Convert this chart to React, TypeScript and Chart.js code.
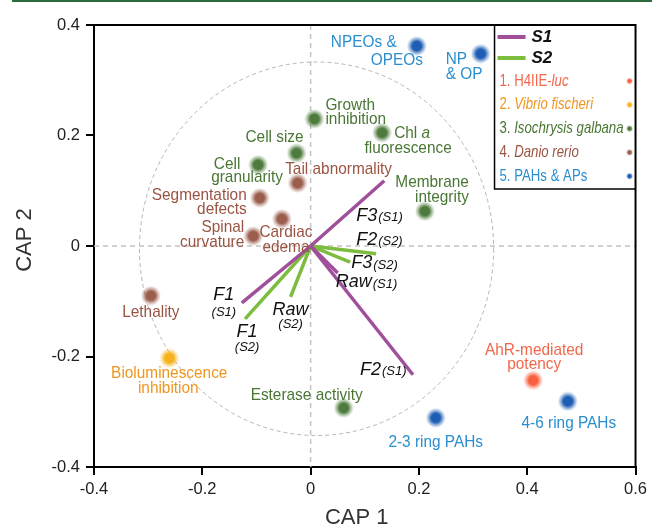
import { useEffect, useRef } from "react";
import { Chart, registerables } from "chart.js";
Chart.register(...registerables);

// ---------------- data ----------------
const X_TICKS = [-0.4, -0.2, 0, 0.2, 0.4, 0.6];
const Y_TICKS = [-0.4, -0.2, 0, 0.2, 0.4];
const X_TITLE = "CAP 1";
const Y_TITLE = "CAP 2";

const GROUP_LEGEND = ["1. H4IIE-*luc*", "2. *Vibrio fischeri*", "3. *Isochrysis galbana*", "4. *Danio rerio*", "5. PAHs & APs"];
const GROUP_DOT_COLORS = ["#f8603f", "#f6b21a", "#4e7b3d", "#9b5d4c", "#1e5db4"];
const GROUP_TEXT_COLORS = ["#f2674a", "#ef9620", "#4a7634", "#9a5443", "#2a8ecf"];

const POINT_NAMES = [
  "NPEOs & OPEOs", "NP & OP", "Growth inhibition", "Chl a fluorescence", "Cell size",
  "Cell granularity", "Tail abnormality", "Segmentation defects", "Cardiac edema", "Spinal curvature",
  "Membrane integrity", "Lethality", "Bioluminescence inhibition", "Esterase activity", "2-3 ring PAHs",
  "AhR-mediated potency", "4-6 ring PAHs",
];
const POINT_GROUP = [4, 4, 2, 2, 2, 2, 3, 3, 3, 3, 2, 3, 1, 2, 4, 0, 4];
const POINT_X = [0.196, 0.314, 0.007, 0.132, -0.026, -0.097, -0.024, -0.094, -0.053, -0.106, 0.211, -0.295, -0.261, 0.061, 0.231, 0.411, 0.475];
const POINT_Y = [0.362, 0.348, 0.230, 0.205, 0.168, 0.147, 0.114, 0.087, 0.049, 0.018, 0.063, -0.090, -0.203, -0.293, -0.311, -0.243, -0.281];

const SERIES_NAMES = ["S1", "S2"];
const SERIES_COLORS = ["#a0509a", "#7dbd3d"];
const VECTOR_NAMES = ["F1", "F2", "F3", "Raw"];
const S1_X = [-0.127, 0.189, 0.136, 0.050];
const S1_Y = [-0.103, -0.233, 0.118, -0.049];
const S2_X = [-0.121, 0.121, 0.073, -0.037];
const S2_Y = [-0.132, -0.014, -0.029, -0.092];
// reference circle (data units): centre and radii
const CIRCLE_C = [0.011, -0.005];
const CIRCLE_R = [0.327, 0.338];

// ---------------- label layout (px offsets from marks) ----------------
type LLine = { t: string; dx: number; dy: number };
type PLabel = { align: CanvasTextAlign; lines: LLine[] };
const POINT_LABELS: PLabel[] = [
  { align: "center", lines: [{ t: "NPEOs &", dx: -53, dy: -4 }, { t: "OPEOs", dx: -20, dy: 14 }] },
  { align: "left", lines: [{ t: "NP", dx: -35, dy: 6 }, { t: "& OP", dx: -35, dy: 21 }] },
  { align: "left", lines: [{ t: "Growth", dx: 11, dy: -14 }, { t: "inhibition", dx: 11, dy: 0 }] },
  { align: "center", lines: [{ t: "Chl *a*", dx: 30, dy: 1 }, { t: "fluorescence", dx: 26, dy: 16 }] },
  { align: "center", lines: [{ t: "Cell size", dx: -22, dy: -16 }] },
  { align: "center", lines: [{ t: "Cell", dx: -31, dy: 0 }, { t: "granularity", dx: -11, dy: 13 }] },
  { align: "center", lines: [{ t: "Tail abnormality", dx: 41, dy: -14 }] },
  { align: "right", lines: [{ t: "Segmentation", dx: -13, dy: -3 }, { t: "defects", dx: -13, dy: 11 }] },
  { align: "center", lines: [{ t: "Cardiac", dx: 4, dy: 13 }, { t: "edema", dx: 4, dy: 28 }] },
  { align: "right", lines: [{ t: "Spinal", dx: -9, dy: -9 }, { t: "curvature", dx: -9, dy: 6 }] },
  { align: "right", lines: [{ t: "Membrane", dx: 44, dy: -29 }, { t: "integrity", dx: 44, dy: -14 }] },
  { align: "center", lines: [{ t: "Lethality", dx: 0, dy: 17 }] },
  { align: "center", lines: [{ t: "Bioluminescence", dx: 0, dy: 15 }, { t: "inhibition", dx: -1, dy: 30 }] },
  { align: "center", lines: [{ t: "Esterase activity", dx: -37, dy: -13 }] },
  { align: "center", lines: [{ t: "2-3 ring PAHs", dx: 0, dy: 24 }] },
  { align: "center", lines: [{ t: "AhR-mediated", dx: 1, dy: -30 }, { t: "potency", dx: 1, dy: -16 }] },
  { align: "center", lines: [{ t: "4-6 ring PAHs", dx: 1, dy: 22 }] },
];
// vector labels: [series][vector]
type VLabel = { stacked: boolean; dx: number; dy: number; sdy?: number };
const VECTOR_LABELS: VLabel[][] = [
  [
    { stacked: true, dx: -18, dy: -8, sdy: 17 },
    { stacked: false, dx: -53, dy: -5 },
    { stacked: false, dx: -28, dy: 35 },
    { stacked: false, dx: -2, dy: 9 },
  ],
  [
    { stacked: true, dx: 2, dy: 13, sdy: 15 },
    { stacked: false, dx: -20, dy: -14 },
    { stacked: false, dx: 1, dy: 1 },
    { stacked: true, dx: 0, dy: 13, sdy: 15 },
  ],
];

const FONT = "'Liberation Sans', Arial, Helvetica, sans-serif";

type Seg = { t: string; i: boolean };
function parseSegs(s: string, italicAll = false): Seg[] {
  const parts = s.split("*");
  return parts.map((t, k) => ({ t, i: italicAll || k % 2 === 1 })).filter((p) => p.t.length > 0);
}

function drawSegs(
  ctx: CanvasRenderingContext2D,
  segs: Seg[],
  x: number,
  y: number,
  align: CanvasTextAlign,
  size: number,
  color: string,
  sx: number,
  bold = false
) {
  ctx.save();
  ctx.fillStyle = color;
  ctx.textBaseline = "middle";
  ctx.textAlign = "left";
  const f = (s: Seg) => `${s.i ? "italic " : ""}${bold ? "bold " : ""}${size}px ${FONT}`;
  let w = 0;
  for (const s of segs) {
    ctx.font = f(s);
    w += ctx.measureText(s.t).width;
  }
  const ws = w * sx;
  const x0 = align === "left" ? x : align === "right" ? x - ws : x - ws / 2;
  ctx.translate(x0, y);
  ctx.scale(sx, 1);
  let cx = 0;
  for (const s of segs) {
    ctx.font = f(s);
    ctx.fillText(s.t, cx, 0);
    cx += ctx.measureText(s.t).width;
  }
  ctx.restore();
  return ws;
}

function hexA(hex: string, a: number) {
  const n = parseInt(hex.slice(1), 16);
  return `rgba(${(n >> 16) & 255},${(n >> 8) & 255},${n & 255},${a})`;
}

function makeDot(color: string, r: number) {
  const c = document.createElement("canvas");
  c.width = r * 2;
  c.height = r * 2;
  const g = c.getContext("2d")!;
  const grad = g.createRadialGradient(r, r, 0, r, r, r);
  grad.addColorStop(0, color);
  grad.addColorStop(0.45, color);
  grad.addColorStop(0.72, hexA(color, 0.45));
  grad.addColorStop(1, hexA(color, 0));
  g.fillStyle = grad;
  g.beginPath();
  g.arc(r, r, r, 0, Math.PI * 2);
  g.fill();
  return c;
}

function fmtTick(v: number) {
  const n = Math.round(v * 10) / 10;
  return n === 0 ? "0" : String(n);
}

export default function App() {
  const ref = useRef<HTMLCanvasElement | null>(null);

  useEffect(() => {
    const canvas = ref.current!;
    const dots = GROUP_DOT_COLORS.map((c) => makeDot(c, 10));
    const smallDots = GROUP_DOT_COLORS.map((c) => makeDot(c, 5));

    const vectorSets: any[] = [];
    const sx = [S1_X, S2_X];
    const sy = [S1_Y, S2_Y];
    for (let s = 0; s < 2; s++) {
      for (let v = 0; v < VECTOR_NAMES.length; v++) {
        vectorSets.push({
          label: `${VECTOR_NAMES[v]}(${SERIES_NAMES[s]})`,
          data: [
            { x: 0, y: 0 },
            { x: sx[s][v], y: sy[s][v] },
          ],
          showLine: true,
          borderColor: SERIES_COLORS[s],
          backgroundColor: SERIES_COLORS[s],
          borderWidth: 3.5,
          pointRadius: 0,
          order: 1,
        });
      }
    }
    const pointSets = GROUP_DOT_COLORS.map((c, g) => ({
      label: `group${g}`,
      data: POINT_X.map((x, i) => ({ x, y: POINT_Y[i], g: POINT_GROUP[i] })).filter((p) => p.g === g),
      pointStyle: dots[g],
      pointRadius: 10,
      showLine: false,
      order: 2,
    }));

    const overlay = {
      id: "overlay",
      beforeDatasetsDraw(chart: any) {
        const ctx: CanvasRenderingContext2D = chart.ctx;
        const xs = chart.scales.x;
        const ys = chart.scales.y;
        const a = chart.chartArea;
        const ox = xs.getPixelForValue(0);
        const oy = ys.getPixelForValue(0);
        ctx.save();
        ctx.strokeStyle = "#c4c4c4";
        ctx.lineWidth = 1.5;
        ctx.setLineDash([5, 4]);
        ctx.beginPath();
        ctx.moveTo(ox, a.top);
        ctx.lineTo(ox, a.bottom);
        ctx.moveTo(a.left, oy);
        ctx.lineTo(a.right, oy);
        ctx.stroke();
        ctx.strokeStyle = "#b5b5b5";
        ctx.lineWidth = 1;
        ctx.setLineDash([4, 3]);
        const cx = xs.getPixelForValue(CIRCLE_C[0]);
        const cy = ys.getPixelForValue(CIRCLE_C[1]);
        const rx = xs.getPixelForValue(CIRCLE_C[0] + CIRCLE_R[0]) - cx;
        const ry = cy - ys.getPixelForValue(CIRCLE_C[1] + CIRCLE_R[1]);
        ctx.beginPath();
        ctx.ellipse(cx, cy, rx, ry, 0, 0, Math.PI * 2);
        ctx.stroke();
        ctx.restore();
      },
      afterDatasetsDraw(chart: any) {
        const ctx: CanvasRenderingContext2D = chart.ctx;
        const xs = chart.scales.x;
        const ys = chart.scales.y;
        const a = chart.chartArea;
        // point labels
        POINT_LABELS.forEach((lab, i) => {
          const px = xs.getPixelForValue(POINT_X[i]);
          const py = ys.getPixelForValue(POINT_Y[i]);
          const col = GROUP_TEXT_COLORS[POINT_GROUP[i]];
          lab.lines.forEach((ln) => {
            drawSegs(ctx, parseSegs(ln.t), px + ln.dx, py + ln.dy, lab.align, 17, col, 0.905);
          });
        });
        // vector labels
        for (let s = 0; s < 2; s++) {
          for (let v = 0; v < VECTOR_NAMES.length; v++) {
            const L = VECTOR_LABELS[s][v];
            const ex = xs.getPixelForValue(sx[s][v]) + L.dx;
            const ey = ys.getPixelForValue(sy[s][v]) + L.dy;
            const main = [{ t: VECTOR_NAMES[v], i: true }];
            const sub = [{ t: `(${SERIES_NAMES[s]})`, i: true }];
            if (L.stacked) {
              drawSegs(ctx, main, ex, ey, "center", 18, "#111", 1);
              drawSegs(ctx, sub, ex, ey + (L.sdy || 16), "center", 13, "#111", 1);
            } else {
              const w = drawSegs(ctx, main, ex, ey, "left", 18, "#111", 1);
              drawSegs(ctx, sub, ex + w + 1, ey + 2, "left", 13, "#111", 1);
            }
          }
        }
        // legend
        ctx.save();
        const lx = a.right - 141;
        const lb = a.top + 164;
        ctx.strokeStyle = "#000";
        ctx.lineWidth = 1.5;
        ctx.fillStyle = "#fff";
        ctx.fillRect(lx, a.top, a.right - lx, lb - a.top);
        ctx.beginPath();
        ctx.moveTo(lx, a.top);
        ctx.lineTo(lx, lb);
        ctx.lineTo(a.right, lb);
        ctx.stroke();
        for (let s = 0; s < 2; s++) {
          const yy = a.top + 12 + s * 21;
          ctx.strokeStyle = SERIES_COLORS[s];
          ctx.lineWidth = 4;
          ctx.beginPath();
          ctx.moveTo(lx + 3, yy);
          ctx.lineTo(lx + 31, yy);
          ctx.stroke();
          drawSegs(ctx, [{ t: SERIES_NAMES[s], i: true }], lx + 37, yy, "left", 17, "#111", 1, true);
        }
        GROUP_LEGEND.forEach((t, g) => {
          const yy = a.top + 56 + g * 23.8;
          drawSegs(ctx, parseSegs(t), lx + 5, yy, "left", 16.5, GROUP_TEXT_COLORS[g], 0.8);
          ctx.drawImage(smallDots[g], a.right - 9.5, yy - 3.5, 7, 7);
        });
        ctx.restore();
        // frame top/right
        ctx.save();
        ctx.strokeStyle = "#000";
        ctx.lineWidth = 2;
        ctx.beginPath();
        ctx.moveTo(a.left, a.top);
        ctx.lineTo(a.right, a.top);
        ctx.lineTo(a.right, a.bottom);
        ctx.stroke();
        ctx.restore();
      },
      afterDraw(chart: any) {
        const ctx: CanvasRenderingContext2D = chart.ctx;
        const a = chart.chartArea;
        ctx.save();
        ctx.fillStyle = "#2b6a3c";
        ctx.fillRect(12, 0, 652 - 12, 2);
        ctx.fillStyle = "#333";
        ctx.font = `22px ${FONT}`;
        ctx.textAlign = "center";
        ctx.textBaseline = "middle";
        ctx.fillText(X_TITLE, (a.left + a.right) / 2 - 8, 518);
        ctx.translate(25, (a.top + a.bottom) / 2 - 6);
        ctx.rotate(-Math.PI / 2);
        ctx.fillText(Y_TITLE, 0, 0);
        ctx.restore();
      },
    };

    const chart = new Chart(canvas, {
      type: "scatter",
      data: { datasets: [...pointSets, ...vectorSets] as any },
      options: {
        animation: false,
        responsive: false,
        devicePixelRatio: 1,
        layout: { padding: { top: 25, right: 13, left: 0, bottom: 0 } },
        plugins: { legend: { display: false }, tooltip: { enabled: false } },
        scales: {
          x: {
            type: "linear",
            min: X_TICKS[0],
            max: X_TICKS[X_TICKS.length - 1],
            afterBuildTicks: (s: any) => {
              s.ticks = X_TICKS.map((v) => ({ value: v }));
            },
            afterFit: (s: any) => {
              s.height = 64;
            },
            grid: { drawOnChartArea: false, color: "#000", lineWidth: 2, tickLength: 8 },
            border: { color: "#000", width: 2 },
            ticks: { color: "#222", font: { size: 16.5, family: FONT }, padding: 5, callback: (v: any) => fmtTick(Number(v)) },
          },
          y: {
            type: "linear",
            min: Y_TICKS[0],
            max: Y_TICKS[Y_TICKS.length - 1],
            afterBuildTicks: (s: any) => {
              s.ticks = Y_TICKS.map((v) => ({ value: v }));
            },
            afterFit: (s: any) => {
              s.width = 94;
            },
            grid: { drawOnChartArea: false, color: "#000", lineWidth: 2, tickLength: 8 },
            border: { color: "#000", width: 2 },
            ticks: { color: "#222", font: { size: 16.5, family: FONT }, padding: 6, callback: (v: any) => fmtTick(Number(v)) },
          },
        },
      },
      plugins: [overlay],
    });
    return () => chart.destroy();
  }, []);

  return (
    <div style={{ position: "fixed", left: 0, top: 0, width: 652, height: 531, background: "#fff" }}>
      <canvas ref={ref} width={652} height={531} style={{ display: "block", width: 652, height: 531 }} />
    </div>
  );
}
